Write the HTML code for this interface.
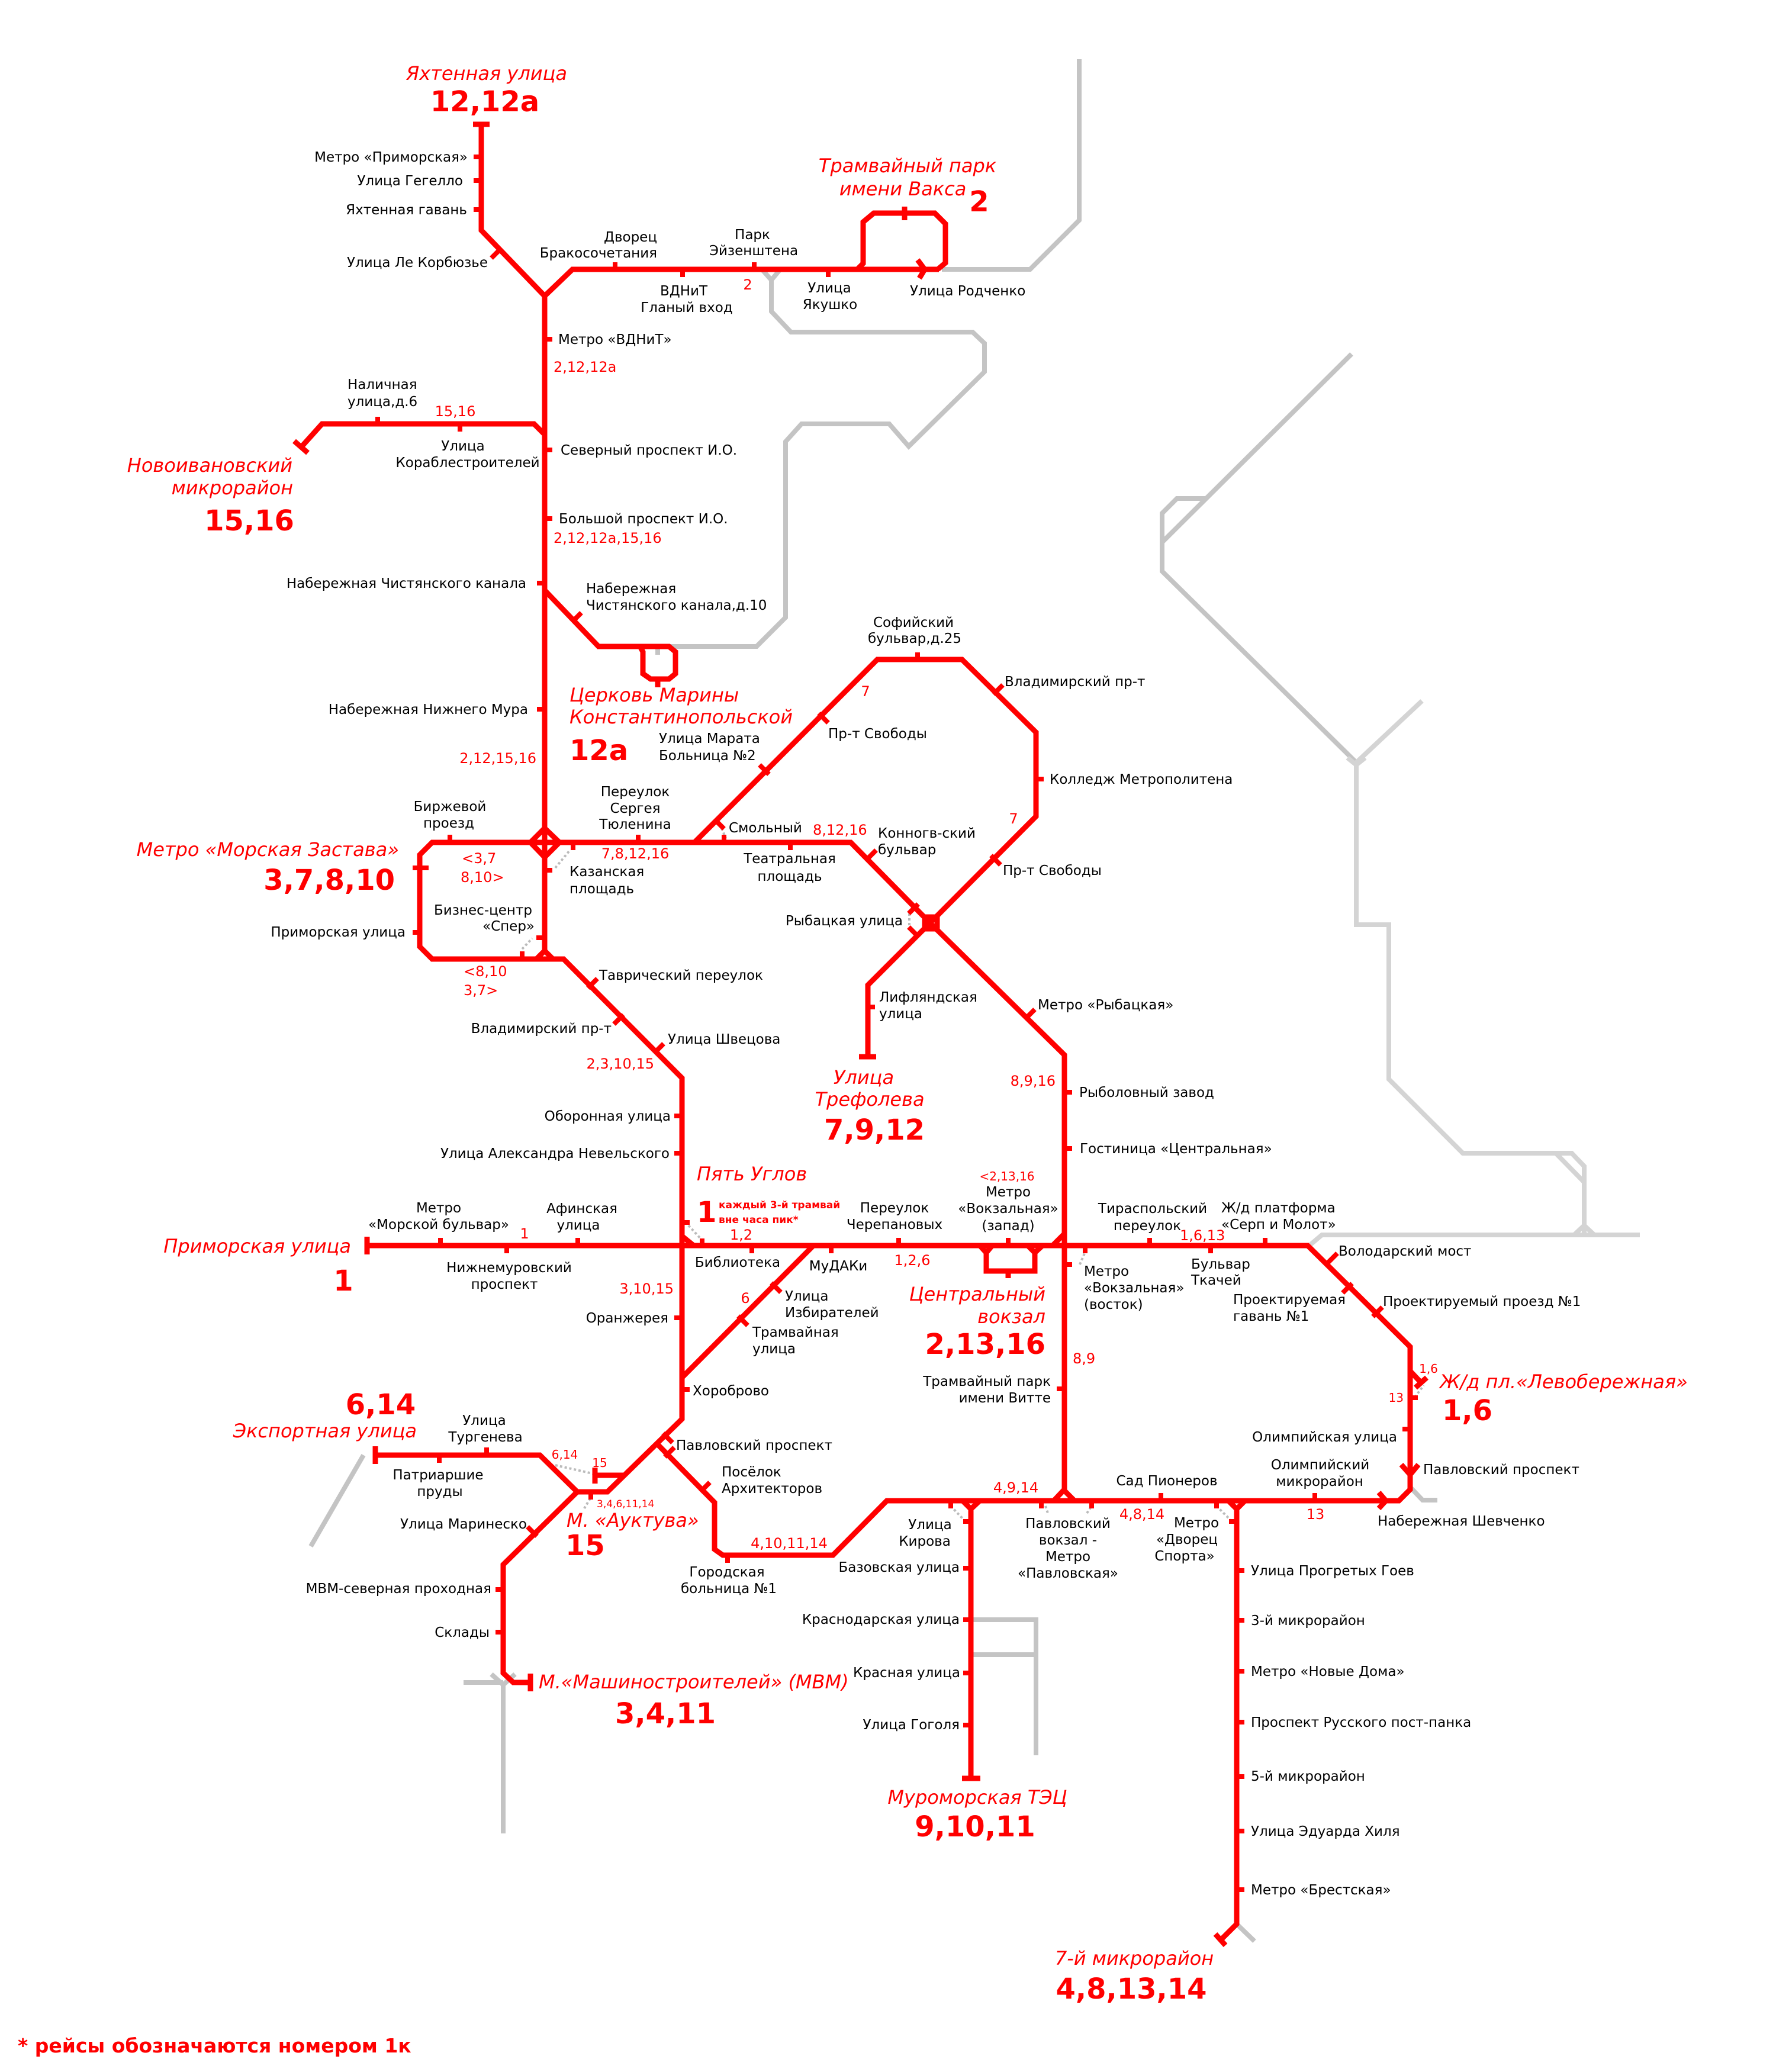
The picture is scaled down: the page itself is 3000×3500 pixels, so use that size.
<!DOCTYPE html>
<html><head><meta charset="utf-8"><style>
html,body{margin:0;padding:0;background:#fff}
svg{display:block}
text{font-family:"DejaVu Sans","Liberation Sans",sans-serif}
.b{font-size:23px;fill:#000}
.r{font-size:24px;fill:#f00}
.rs{font-size:20px;fill:#f00}
.i{font-size:32px;fill:#f00;font-style:italic}
.n{font-size:48px;fill:#f00;font-weight:bold}
.m{text-anchor:middle}.e{text-anchor:end}
</style></head><body>
<svg xmlns="http://www.w3.org/2000/svg" width="3000" height="3500" viewBox="0 0 3000 3500">
<rect width="3000" height="3500" fill="#fff"/>
<!-- gray -->
<g fill="none" stroke="#c4c4c4" stroke-width="8">
<polyline points="1823,100 1823,372 1740,455 1591,455"/>
<polyline points="1287,455 1303,473 1318,455"/>
<polyline points="1303,473 1303,526 1336,561 1643,561 1663,580 1663,628 1535,754 1502,716 1354,716 1327,746 1327,1043 1278,1092 1130,1092"/>
<line x1="1111" y1="1092" x2="1111" y2="1106"/>
<polyline points="2283,598 1963,916"/>
<polyline points="2036,842 1988,842 1963,867 1963,965 2291,1288"/>
<polyline points="614,2458 525,2612"/>
<polyline points="1642,2736 1750,2736 1750,2965"/>
<line x1="1642" y1="2795" x2="1750" y2="2795"/>
<polyline points="783,2842 850,2842"/>
<polyline points="830,2828 850,2846 870,2828"/>
<line x1="850" y1="2842" x2="850" y2="3097"/>
<polyline points="2383,2513 2403,2534 2428,2534"/>
<line x1="2089" y1="3250" x2="2119" y2="3279"/>
</g>
<g fill="none" stroke="#d4d4d4" stroke-width="8">
<polyline points="2276,1280 2291,1292 2306,1280"/>
<line x1="2291" y1="1288" x2="2402" y2="1184"/>
<polyline points="2291,1288 2291,1562 2346,1562 2346,1823 2471,1948 2655,1948 2676,1970 2676,2084"/>
<line x1="2628" y1="1948" x2="2676" y2="1997"/>
<polyline points="2659,2086 2676,2070 2693,2086"/>
<polyline points="2214,2102 2233,2086 2770,2086"/>
</g>
<!-- dotted connectors -->
<g stroke="#bbb" stroke-width="4" stroke-dasharray="4,4" fill="none">
<line x1="938" y1="1466" x2="962" y2="1437"/>
<line x1="1219" y1="1399" x2="1226" y2="1416"/>
<line x1="882" y1="1603" x2="899" y2="1585"/>
<line x1="1536" y1="1543" x2="1536" y2="1571"/>
<line x1="1163" y1="2070" x2="1186" y2="2095"/>
<line x1="1824" y1="2136" x2="1833" y2="2115"/>
<line x1="938" y1="2475" x2="1001" y2="2489"/>
<line x1="997" y1="2531" x2="987" y2="2548"/>
<line x1="1606" y1="2544" x2="1626" y2="2565"/>
<line x1="2055" y1="2544" x2="2081" y2="2570"/>
<line x1="1766" y1="2544" x2="1770" y2="2556"/>
<line x1="1836" y1="2556" x2="1844" y2="2544"/>
<line x1="2390" y1="2360" x2="2405" y2="2340"/>
</g>
<!-- red lines -->
<g fill="none" stroke="#f00" stroke-width="9" stroke-linejoin="miter">
<polyline points="813,210 813,389 920,500 920,1606"/>
<polyline points="920,500 967,455 1586,455"/>
<polyline points="1448,455 1458,445 1458,375 1476,360 1579,360 1597,378 1597,444 1584,455"/>
<polyline points="1550,439 1562,455 1553,470"/>
<polyline points="920,734 902,716 544,716 509,755"/>
<polyline points="920,997 1011,1092 1081,1092 1086,1101 1086,1138 1099,1147 1130,1147 1141,1138 1141,1101 1130,1092 1081,1092"/>
<polyline points="920,1423 730,1423 709,1444 709,1599 730,1620 952,1620 1152,1821 1152,2397 1026,2520 975,2520 850,2643 850,2826 867,2842 896,2842"/>
<polyline points="906,1620 920,1606 934,1620"/>
<polyline points="920,1423 1437,1423 1571,1559 1798,1782 1798,2517"/>
<polyline points="1173,1423 1482,1114 1625,1114 1750,1237 1750,1379 1571,1559 1466,1664 1466,1785"/>
<polyline points="620,2104 2209,2104 2382,2275 2382,2516 2363,2535 1498,2535 1407,2627 1221,2627 1207,2617 1207,2538 1110,2439"/>
<line x1="1152" y1="2088" x2="1173" y2="2105"/>
<line x1="1374" y1="2104" x2="1152" y2="2327"/>
<polyline points="975,2520 912,2458 634,2458"/>
<line x1="1005" y1="2492" x2="1052" y2="2492"/>
<polyline points="1655,2104 1666,2116 1676,2104"/>
<polyline points="1666,2116 1666,2147 1748,2147 1748,2116"/>
<polyline points="1736,2104 1748,2116 1761,2104"/>
<line x1="1778" y1="2104" x2="1798" y2="2084"/>
<polyline points="1780,2535 1797,2517 1815,2535"/>
<polyline points="1626,2535 1640,2549 1655,2535"/>
<line x1="1640" y1="2549" x2="1640" y2="3004"/>
<polyline points="2075,2535 2089,2549 2103,2535"/>
<polyline points="2089,2549 2089,3250 2062,3277"/>
<polyline points="2382,2316 2400,2335"/>
<polyline points="2367,2474 2382,2491 2396,2474"/>
<polyline points="2329,2521 2341,2535 2329,2548"/>
<!-- end bars -->
<line x1="799" y1="210" x2="827" y2="210"/>
<line x1="497" y1="745" x2="520" y2="765"/>
<line x1="1451" y1="1785" x2="1480" y2="1785"/>
<line x1="620" y1="2089" x2="620" y2="2119"/>
<line x1="634" y1="2443" x2="634" y2="2473"/>
<line x1="1005" y1="2479" x2="1005" y2="2506"/>
<line x1="896" y1="2827" x2="896" y2="2857"/>
<line x1="1625" y1="3004" x2="1656" y2="3004"/>
<line x1="2053" y1="3267" x2="2070" y2="3286"/>
<line x1="2391" y1="2344" x2="2410" y2="2327"/>
<line x1="1528" y1="349" x2="1528" y2="372"/>
<line x1="1111" y1="1147" x2="1111" y2="1161"/>
<line x1="1703" y1="2147" x2="1703" y2="2159"/>
<!-- diamond/box -->
<polygon points="896,1423 920,1399 945,1423 920,1448"/>
<rect x="1562" y="1549" width="21" height="20"/>
</g>
<!-- ticks -->
<g stroke="#f00" stroke-width="8">
<line x1="800" y1="265" x2="813" y2="265"/><line x1="800" y1="305" x2="813" y2="305"/><line x1="800" y1="354" x2="813" y2="354"/>
<line x1="830" y1="436" x2="846" y2="420"/>
<line x1="1039" y1="443" x2="1039" y2="455"/><line x1="1153" y1="455" x2="1153" y2="468"/><line x1="1274" y1="443" x2="1274" y2="455"/><line x1="1399" y1="455" x2="1399" y2="468"/>
<line x1="920" y1="573" x2="933" y2="573"/><line x1="920" y1="760" x2="933" y2="760"/><line x1="920" y1="876" x2="933" y2="876"/><line x1="907" y1="985" x2="920" y2="985"/>
<line x1="638" y1="704" x2="638" y2="716"/><line x1="777" y1="716" x2="777" y2="729"/>
<line x1="966" y1="1051" x2="982" y2="1035"/>
<line x1="907" y1="1198" x2="920" y2="1198"/>
<line x1="1550" y1="1102" x2="1550" y2="1114"/>
<line x1="1678" y1="1173" x2="1694" y2="1157"/>
<line x1="1750" y1="1316" x2="1763" y2="1316"/>
<line x1="1383" y1="1205" x2="1399" y2="1221"/><line x1="1283" y1="1292" x2="1299" y2="1308"/><line x1="1207" y1="1384" x2="1223" y2="1400"/>
<line x1="760" y1="1410" x2="760" y2="1423"/>
<line x1="697" y1="1466" x2="724" y2="1466"/><line x1="697" y1="1575" x2="709" y2="1575"/>
<line x1="906" y1="1584" x2="920" y2="1584"/><line x1="920" y1="1470" x2="933" y2="1470"/>
<line x1="968" y1="1423" x2="968" y2="1436"/><line x1="1078" y1="1410" x2="1078" y2="1423"/>
<line x1="882" y1="1607" x2="882" y2="1620"/>
<line x1="1223" y1="1410" x2="1223" y2="1423"/><line x1="1335" y1="1423" x2="1335" y2="1436"/>
<line x1="1464" y1="1452" x2="1480" y2="1436"/>
<line x1="1674" y1="1445" x2="1690" y2="1461"/>
<line x1="1535" y1="1543" x2="1551" y2="1527"/><line x1="1535" y1="1566" x2="1551" y2="1582"/>
<line x1="1466" y1="1701" x2="1478" y2="1701"/>
<line x1="1732" y1="1721" x2="1748" y2="1705"/>
<line x1="1798" y1="1845" x2="1811" y2="1845"/><line x1="1798" y1="1940" x2="1811" y2="1940"/>
<line x1="993" y1="1669" x2="1009" y2="1653"/><line x1="1037" y1="1730" x2="1053" y2="1714"/><line x1="1105" y1="1779" x2="1121" y2="1763"/>
<line x1="1139" y1="1885" x2="1152" y2="1885"/><line x1="1139" y1="1948" x2="1152" y2="1948"/>
<line x1="1152" y1="2065" x2="1165" y2="2065"/><line x1="1186" y1="2092" x2="1186" y2="2104"/>
<line x1="744" y1="2091" x2="744" y2="2104"/><line x1="856" y1="2104" x2="856" y2="2117"/><line x1="976" y1="2091" x2="976" y2="2104"/>
<line x1="1270" y1="2104" x2="1270" y2="2117"/><line x1="1404" y1="2104" x2="1404" y2="2117"/><line x1="1518" y1="2091" x2="1518" y2="2104"/><line x1="1703" y1="2091" x2="1703" y2="2104"/>
<line x1="1833" y1="2104" x2="1833" y2="2117"/><line x1="1798" y1="2136" x2="1811" y2="2136"/><line x1="1785" y1="2346" x2="1798" y2="2346"/>
<line x1="1942" y1="2091" x2="1942" y2="2104"/><line x1="2045" y1="2104" x2="2045" y2="2117"/><line x1="2137" y1="2091" x2="2137" y2="2104"/>
<line x1="2243" y1="2133" x2="2259" y2="2117"/><line x1="2268" y1="2184" x2="2284" y2="2168"/><line x1="2319" y1="2224" x2="2335" y2="2208"/>
<line x1="2382" y1="2361" x2="2395" y2="2361"/><line x1="2369" y1="2414" x2="2382" y2="2414"/>
<line x1="2221" y1="2522" x2="2221" y2="2535"/><line x1="1961" y1="2522" x2="1961" y2="2535"/><line x1="2055" y1="2535" x2="2055" y2="2548"/>
<line x1="1606" y1="2535" x2="1606" y2="2548"/><line x1="1759" y1="2535" x2="1759" y2="2548"/><line x1="1844" y1="2535" x2="1844" y2="2548"/>
<line x1="1627" y1="2570" x2="1640" y2="2570"/><line x1="1627" y1="2649" x2="1640" y2="2649"/><line x1="1627" y1="2736" x2="1640" y2="2736"/><line x1="1627" y1="2826" x2="1640" y2="2826"/><line x1="1627" y1="2914" x2="1640" y2="2914"/>
<line x1="2076" y1="2570" x2="2089" y2="2570"/>
<line x1="2089" y1="2653" x2="2102" y2="2653"/><line x1="2089" y1="2737" x2="2102" y2="2737"/><line x1="2089" y1="2823" x2="2102" y2="2823"/><line x1="2089" y1="2909" x2="2102" y2="2909"/><line x1="2089" y1="3001" x2="2102" y2="3001"/><line x1="2089" y1="3093" x2="2102" y2="3093"/><line x1="2089" y1="3192" x2="2102" y2="3192"/>
<line x1="1139" y1="2226" x2="1152" y2="2226"/><line x1="1152" y1="2347" x2="1165" y2="2347"/>
<line x1="1303" y1="2167" x2="1319" y2="2183"/><line x1="1247" y1="2223" x2="1263" y2="2239"/>
<line x1="1120" y1="2421" x2="1136" y2="2437"/><line x1="1123" y1="2461" x2="1139" y2="2445"/><line x1="1183" y1="2520" x2="1199" y2="2504"/>
<line x1="1229" y1="2627" x2="1229" y2="2640"/>
<line x1="742" y1="2458" x2="742" y2="2471"/><line x1="822" y1="2445" x2="822" y2="2458"/>
<line x1="998" y1="2520" x2="998" y2="2533"/>
<line x1="891" y1="2579" x2="907" y2="2595"/>
<line x1="837" y1="2685" x2="850" y2="2685"/><line x1="837" y1="2757" x2="850" y2="2757"/>
</g>
<!-- labels -->
<text class="i m" x="822" y="135">Яхтенная улица</text>
<text class="n m" x="819" y="188">12,12a</text>
<text class="b e" x="790" y="273">Метро «Приморская»</text>
<text class="b e" x="782" y="313">Улица Гегелло</text>
<text class="b e" x="789" y="362">Яхтенная гавань</text>
<text class="b e" x="824" y="451">Улица Ле Корбюзье</text>
<text class="b e" x="1110" y="408">Дворец</text>
<text class="b e" x="1110" y="435">Бракосочетания</text>
<text class="b m" x="1155" y="499">ВДНиТ</text>
<text class="b m" x="1160" y="527">Гланый вход</text>
<text class="b m" x="1271" y="404">Парк</text>
<text class="b m" x="1273" y="431">Эйзенштена</text>
<text class="r m" x="1263" y="489">2</text>
<text class="b m" x="1401" y="494">Улица</text>
<text class="b m" x="1402" y="522">Якушко</text>
<text class="b" x="1537" y="499">Улица Родченко</text>
<text class="i m" x="1533" y="291">Трамвайный парк</text>
<text class="i m" x="1525" y="330">имени Вакса</text>
<text class="n m" x="1654" y="357">2</text>
<text class="b" x="943" y="581">Метро «ВДНиТ»</text>
<text class="r" x="935" y="628">2,12,12a</text>
<text class="b" x="587" y="657">Наличная</text>
<text class="b" x="587" y="686">улица,д.6</text>
<text class="r m" x="769" y="703">15,16</text>
<text class="b m" x="782" y="761">Улица</text>
<text class="b m" x="790" y="789">Кораблестроителей</text>
<text class="i e" x="494" y="797">Новоивановский</text>
<text class="i e" x="495" y="835">микрорайон</text>
<text class="n m" x="421" y="896">15,16</text>
<text class="b" x="947" y="768">Северный проспект И.О.</text>
<text class="b" x="944" y="884">Большой проспект И.О.</text>
<text class="r" x="935" y="917">2,12,12a,15,16</text>
<text class="b e" x="889" y="993">Набережная Чистянского канала</text>
<text class="b" x="990" y="1002">Набережная</text>
<text class="b" x="990" y="1030">Чистянского канала,д.10</text>
<text class="b m" x="1543" y="1059">Софийский</text>
<text class="b m" x="1545" y="1086">бульвар,д.25</text>
<text class="b" x="1697" y="1159">Владимирский пр-т</text>
<text class="b" x="1773" y="1324">Колледж Метрополитена</text>
<text class="r m" x="1462" y="1176">7</text>
<text class="r m" x="1712" y="1391">7</text>
<text class="b" x="1399" y="1247">Пр-т Свободы</text>
<text class="b e" x="892" y="1206">Набережная Нижнего Мура</text>
<text class="r e" x="906" y="1289">2,12,15,16</text>
<text class="i" x="962" y="1185">Церковь Марины</text>
<text class="i" x="962" y="1222">Константинопольской</text>
<text class="n" x="962" y="1284">12a</text>
<text class="b" x="1113" y="1255">Улица Марата</text>
<text class="b" x="1113" y="1284">Больница №2</text>
<text class="b m" x="760" y="1370">Биржевой</text>
<text class="b m" x="758" y="1398">проезд</text>
<text class="i e" x="674" y="1446">Метро «Морская Застава»</text>
<text class="n e" x="667" y="1503">3,7,8,10</text>
<text class="r" x="780" y="1458">&lt;3,7</text>
<text class="r" x="778" y="1490">8,10&gt;</text>
<text class="b m" x="1073" y="1345">Переулок</text>
<text class="b m" x="1073" y="1373">Сергея</text>
<text class="b m" x="1073" y="1400">Тюленина</text>
<text class="r m" x="1073" y="1450">7,8,12,16</text>
<text class="b" x="962" y="1480">Казанская</text>
<text class="b" x="962" y="1509">площадь</text>
<text class="b" x="1231" y="1406">Смольный</text>
<text class="b m" x="1334" y="1458">Театральная</text>
<text class="b m" x="1334" y="1488">площадь</text>
<text class="r" x="1373" y="1410">8,12,16</text>
<text class="b m" x="816" y="1545">Бизнес-центр</text>
<text class="b e" x="903" y="1572">«Спер»</text>
<text class="b e" x="685" y="1582">Приморская улица</text>
<text class="r" x="783" y="1649">&lt;8,10</text>
<text class="r" x="783" y="1681">3,7&gt;</text>
<text class="b" x="1012" y="1655">Таврический переулок</text>
<text class="b e" x="1033" y="1745">Владимирский пр-т</text>
<text class="b" x="1128" y="1763">Улица Швецова</text>
<text class="r e" x="1105" y="1805">2,3,10,15</text>
<text class="b e" x="1133" y="1893">Оборонная улица</text>
<text class="b e" x="1131" y="1956">Улица Александра Невельского</text>
<text class="i" x="1177" y="1994">Пять Углов</text>
<text class="n" x="1177" y="2064">1</text>
<text x="1214" y="2041" style="font-size:17px;fill:#f00;font-weight:bold">каждый 3-й трамвай</text>
<text x="1214" y="2066" style="font-size:17px;fill:#f00;font-weight:bold">вне часа пик*</text>
<text class="r m" x="1252" y="2094">1,2</text>
<text class="b m" x="741" y="2048">Метро</text>
<text class="b m" x="741" y="2076">«Морской бульвар»</text>
<text class="r m" x="886" y="2092">1</text>
<text class="b m" x="983" y="2049">Афинская</text>
<text class="b m" x="977" y="2077">улица</text>
<text class="i e" x="593" y="2116">Приморская улица</text>
<text class="n m" x="580" y="2180">1</text>
<text class="b m" x="860" y="2149">Нижнемуровский</text>
<text class="b m" x="852" y="2177">проспект</text>
<text class="b m" x="1246" y="2140">Библиотека</text>
<text class="b m" x="1416" y="2146">МуДАКи</text>
<text class="b m" x="1511" y="2048">Переулок</text>
<text class="b m" x="1511" y="2076">Черепановых</text>
<text class="r m" x="1541" y="2137">1,2,6</text>
<text class="rs m" x="1701" y="1994">&lt;2,13,16</text>
<text class="b m" x="1703" y="2021">Метро</text>
<text class="b m" x="1703" y="2049">«Вокзальная»</text>
<text class="b m" x="1703" y="2078">(запад)</text>
<text class="i e" x="1766" y="2197">Центральный</text>
<text class="i e" x="1766" y="2235">вокзал</text>
<text class="n e" x="1766" y="2287">2,13,16</text>
<text class="b e" x="1775" y="2341">Трамвайный парк</text>
<text class="b e" x="1775" y="2369">имени Витте</text>
<text class="r e" x="1783" y="1834">8,9,16</text>
<text class="r" x="1812" y="2303">8,9</text>
<text class="b" x="1823" y="1853">Рыболовный завод</text>
<text class="b" x="1824" y="1948">Гостиница «Центральная»</text>
<text class="b" x="1753" y="1705">Метро «Рыбацкая»</text>
<text class="b" x="1694" y="1478">Пр-т Свободы</text>
<text class="b" x="1483" y="1415">Коннoгв-ский</text>
<text class="b" x="1483" y="1443">бульвар</text>
<text class="b e" x="1525" y="1563">Рыбацкая улица</text>
<text class="b" x="1485" y="1692">Лифляндская</text>
<text class="b" x="1485" y="1720">улица</text>
<text class="i m" x="1459" y="1831">Улица</text>
<text class="i m" x="1469" y="1868">Трефолева</text>
<text class="n m" x="1477" y="1925">7,9,12</text>
<text class="b" x="1326" y="2197">Улица</text>
<text class="b" x="1326" y="2225">Избирателей</text>
<text class="r m" x="1259" y="2201">6</text>
<text class="b" x="1271" y="2258">Трамвайная</text>
<text class="b" x="1271" y="2286">улица</text>
<text class="b" x="1170" y="2357">Хороброво</text>
<text class="b e" x="1129" y="2234">Оранжерея</text>
<text class="r e" x="1138" y="2185">3,10,15</text>
<text class="b m" x="1947" y="2049">Тираспольский</text>
<text class="b m" x="1938" y="2078">переулок</text>
<text class="r" x="1993" y="2095">1,6,13</text>
<text class="b" x="2063" y="2048">Ж/д платформа</text>
<text class="b" x="2063" y="2076">«Серп и Молот»</text>
<text class="b" x="1831" y="2155">Метро</text>
<text class="b" x="1831" y="2183">«Вокзальная»</text>
<text class="b" x="1831" y="2211">(восток)</text>
<text class="b" x="2012" y="2143">Бульвар</text>
<text class="b" x="2012" y="2170">Ткачей</text>
<text class="b" x="2083" y="2203">Проектируемая</text>
<text class="b" x="2083" y="2231">гавань №1</text>
<text class="b" x="2261" y="2121">Володарский мост</text>
<text class="b" x="2336" y="2206">Проектируемый проезд №1</text>
<text class="i" x="2432" y="2345">Ж/д пл.«Левобережная»</text>
<text class="n" x="2436" y="2399">1,6</text>
<text class="rs m" x="2413" y="2319">1,6</text>
<text class="rs e" x="2371" y="2368">13</text>
<text class="b e" x="2360" y="2435">Олимпийская улица</text>
<text class="b" x="2404" y="2490">Павловский проспект</text>
<text class="b" x="2327" y="2577">Набережная Шевченко</text>
<text class="r m" x="2222" y="2566">13</text>
<text class="b m" x="2230" y="2482">Олимпийский</text>
<text class="b m" x="2229" y="2510">микрорайон</text>
<text class="b m" x="1971" y="2509">Сад Пионеров</text>
<text class="r m" x="1929" y="2566">4,8,14</text>
<text class="b m" x="2021" y="2580">Метро</text>
<text class="b m" x="2005" y="2608">«Дворец</text>
<text class="b m" x="2001" y="2636">Спорта»</text>
<text class="r m" x="1716" y="2521">4,9,14</text>
<text class="b m" x="1804" y="2581">Павловский</text>
<text class="b m" x="1804" y="2609">вокзал -</text>
<text class="b m" x="1804" y="2637">Метро</text>
<text class="b m" x="1804" y="2665">«Павловская»</text>
<text class="b m" x="1571" y="2583">Улица</text>
<text class="b m" x="1562" y="2611">Кирова</text>
<text class="b e" x="1621" y="2655">Базовская улица</text>
<text class="b e" x="1621" y="2743">Краснодарская улица</text>
<text class="b e" x="1622" y="2833">Красная улица</text>
<text class="b e" x="1621" y="2921">Улица Гоголя</text>
<text class="i m" x="1651" y="3047">Муроморская ТЭЦ</text>
<text class="n m" x="1647" y="3102">9,10,11</text>
<text class="b" x="2113" y="2661">Улица Прогретых Гоев</text>
<text class="b" x="2113" y="2745">3-й микрорайон</text>
<text class="b" x="2113" y="2831">Метро «Новые Дома»</text>
<text class="b" x="2113" y="2917">Проспект Русского пост-панка</text>
<text class="b" x="2113" y="3008">5-й микрорайон</text>
<text class="b" x="2113" y="3101">Улица Эдуарда Хиля</text>
<text class="b" x="2113" y="3200">Метро «Брестская»</text>
<text class="i m" x="1916" y="3319">7-й микрорайон</text>
<text class="n m" x="1911" y="3376">4,8,13,14</text>
<text class="n m" x="643" y="2389">6,14</text>
<text class="i e" x="704" y="2428">Экспортная улица</text>
<text class="b m" x="818" y="2407">Улица</text>
<text class="b m" x="820" y="2435">Тургенева</text>
<text class="b m" x="740" y="2499">Патриаршие</text>
<text class="b m" x="743" y="2527">пруды</text>
<text class="rs m" x="954" y="2464">6,14</text>
<text class="rs m" x="1013" y="2478">15</text>
<text x="1008" y="2546" style="font-size:17px;fill:#f00">3,4,6,11,14</text>
<text class="i" x="957" y="2579">М.  «Ауктува»</text>
<text class="n" x="955" y="2627">15</text>
<text class="b e" x="890" y="2582">Улица Маринеско</text>
<text class="b e" x="830" y="2691">МВМ-северная проходная</text>
<text class="b e" x="827" y="2765">Склады</text>
<text class="i" x="910" y="2852">М.«Машиностроителей» (МВМ)</text>
<text class="n m" x="1124" y="2911">3,4,11</text>
<text class="b" x="1142" y="2449">Павловский проспект</text>
<text class="b" x="1219" y="2494">Посёлок</text>
<text class="b" x="1219" y="2522">Архитекторов</text>
<text class="r m" x="1333" y="2615">4,10,11,14</text>
<text class="b m" x="1228" y="2663">Городская</text>
<text class="b m" x="1231" y="2691">больница №1</text>
<text x="30" y="3467" style="font-size:33px;fill:#f00;font-weight:bold">* рейсы обозначаются номером 1к</text>
</svg>
</body></html>
